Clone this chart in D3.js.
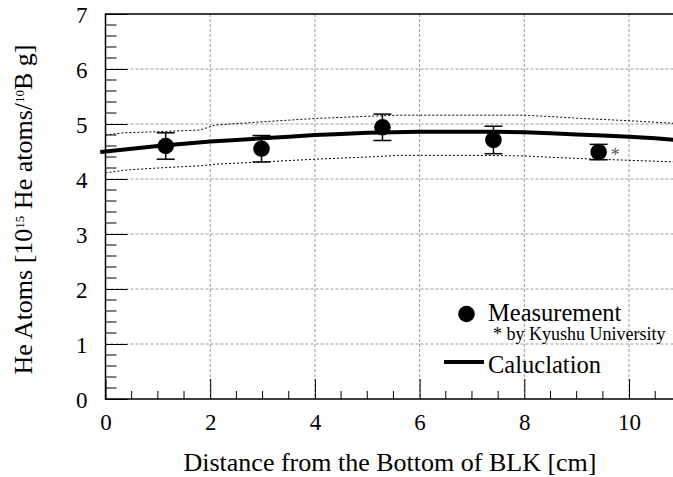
<!DOCTYPE html>
<html>
<head>
<meta charset="utf-8">
<script src="https://cdn.jsdelivr.net/npm/d3@7"></script>
<style>
  body { margin: 0; background: #fff; }
  text { font-family: "Liberation Serif", "DejaVu Serif", serif; fill: #000; }
</style>
</head>
<body>
<svg id="chart" width="673" height="477"></svg>
<script>
/* measured points */
var measX = [1.15, 2.98, 5.29, 7.41, 9.42];
var measY = [4.60, 4.55, 4.94, 4.71, 4.49];
var measErr = [0.24, 0.24, 0.24, 0.25, 0.14];

/* calculation curve and its band */
var calcX = [-0.1, 0, 0.5, 1, 1.5, 2, 2.5, 3, 3.5, 4, 4.5, 5, 5.5, 6, 6.5, 7, 7.5, 8, 8.5, 9, 9.5, 10, 10.5, 10.9];
var calcY = [4.49, 4.50, 4.55, 4.60, 4.64, 4.68, 4.71, 4.74, 4.77, 4.80, 4.82, 4.84, 4.85, 4.86, 4.86, 4.86, 4.86, 4.85, 4.83, 4.81, 4.79, 4.77, 4.74, 4.71];
var bandX = [0, 0.35, 1, 1.8, 2.1, 3, 4, 5, 5.6, 6, 7, 8, 8.6, 9.1, 10, 10.9];
var bandHi = [4.80, 4.84, 4.86, 4.89, 4.98, 5.04, 5.10, 5.14, 5.16, 5.16, 5.16, 5.16, 5.13, 5.10, 5.06, 5.01];
var bandLo = [4.11, 4.16, 4.20, 4.24, 4.27, 4.31, 4.36, 4.40, 4.43, 4.43, 4.43, 4.42, 4.39, 4.37, 4.34, 4.31];

var xMajor = [0, 2, 4, 6, 8, 10];
var yMajor = [0, 1, 2, 3, 4, 5, 6, 7];

var svg = d3.select("#chart");
var pL = 105.5, pR = 673, pT = 14, pB = 399;

var x = d3.scaleLinear().domain([0, 10.84]).range([pL, pR]);
var y = d3.scaleLinear().domain([0, 7]).range([pB, pT]);

// grid
svg.append("g").selectAll("line").data(xMajor.filter(d => d > 0))
  .enter().append("line")
  .attr("x1", d => x(d)).attr("x2", d => x(d))
  .attr("y1", pT).attr("y2", pB)
  .attr("stroke", "#999").attr("stroke-width", 1).attr("stroke-dasharray", "3,2");
svg.append("g").selectAll("line").data(yMajor.filter(d => d > 0 && d < 7))
  .enter().append("line")
  .attr("x1", pL).attr("x2", pR)
  .attr("y1", d => y(d)).attr("y2", d => y(d))
  .attr("stroke", "#999").attr("stroke-width", 1).attr("stroke-dasharray", "3,2");

// axes (ROOT style ticks inside)
var xAxis = d3.axisBottom(x).tickValues(xMajor).tickSize(-20).tickPadding(15).tickFormat(d3.format("d"));
var gx = svg.append("g").attr("transform", "translate(0," + pB + ")").call(xAxis);
gx.select(".domain").remove();
var xMinor = d3.range(0.5, 10.84, 0.5).filter(d => d % 2 != 0);
gx.selectAll(".minor").data(xMinor).enter().append("line")
  .attr("x1", d => x(d)).attr("x2", d => x(d)).attr("y1", 0).attr("y2", -8)
  .attr("stroke", "#000");

var yAxis = d3.axisLeft(y).tickValues(yMajor).tickSize(-22).tickPadding(18).tickFormat(d3.format("d"));
var gy = svg.append("g").attr("transform", "translate(" + pL + ",0)").call(yAxis);
gy.select(".domain").remove();
var yMinor = d3.range(0.2, 7, 0.2).filter(d => Math.abs(d - Math.round(d)) > 0.01);
gy.selectAll(".minor").data(yMinor).enter().append("line")
  .attr("x1", 0).attr("x2", 11).attr("y1", d => y(d)).attr("y2", d => y(d))
  .attr("stroke", "#000");

svg.selectAll(".tick line").attr("stroke", "#000");
svg.selectAll(".tick text").style("font-size", "23px").style("font-family", "Liberation Serif");
gy.selectAll(".tick text").attr("dy", "0.38em");

// frame
svg.append("path")
  .attr("d", "M" + pR + "," + pT + "H" + pL + "V" + pB + "H" + pR)
  .attr("fill", "none").attr("stroke", "#000").attr("stroke-width", 1.5);

// band lines
var line = d3.line().curve(d3.curveLinear);
svg.append("path")
  .attr("d", line(bandX.map((d, i) => [x(d), y(bandHi[i])])))
  .attr("fill", "none").attr("stroke", "#000").attr("stroke-width", 1).attr("stroke-dasharray", "2,2");
svg.append("path")
  .attr("d", line(bandX.map((d, i) => [x(d), y(bandLo[i])])))
  .attr("fill", "none").attr("stroke", "#000").attr("stroke-width", 1).attr("stroke-dasharray", "2,2");

// calculation
svg.append("path")
  .attr("d", line(calcX.map((d, i) => [x(d), y(calcY[i])])))
  .attr("fill", "none").attr("stroke", "#000").attr("stroke-width", 4);

// error bars + points
var pts = svg.append("g");
measX.forEach(function (d, i) {
  var cx = x(d);
  pts.append("line").attr("x1", cx).attr("x2", cx)
    .attr("y1", y(measY[i] - measErr[i])).attr("y2", y(measY[i] + measErr[i]))
    .attr("stroke", "#000").attr("stroke-width", 1.5);
  [measY[i] - measErr[i], measY[i] + measErr[i]].forEach(function (v) {
    pts.append("line").attr("x1", cx - 9).attr("x2", cx + 9)
      .attr("y1", y(v)).attr("y2", y(v)).attr("stroke", "#000").attr("stroke-width", 1.5);
  });
  pts.append("circle").attr("cx", cx).attr("cy", y(measY[i])).attr("r", 8.3).attr("fill", "#000");
});
svg.append("text").attr("x", x(measX[4]) + 12).attr("y", y(measY[4]) + 9)
  .style("font-size", "18px").style("fill", "#555").text("*");

// legend
svg.append("circle").attr("cx", 466.5).attr("cy", 314).attr("r", 8.3).attr("fill", "#000");
svg.append("text").attr("x", 488).attr("y", 321).style("font-size", "24.5px").text("Measurement");
svg.append("text").attr("x", 493).attr("y", 340).style("font-size", "18px").text("* by Kyushu University");
svg.append("line").attr("x1", 444).attr("x2", 484).attr("y1", 362).attr("y2", 362)
  .attr("stroke", "#000").attr("stroke-width", 4);
svg.append("text").attr("x", 488).attr("y", 373).style("font-size", "24.5px").text("Caluclation");

// axis titles
svg.append("text").attr("x", 390).attr("y", 471).attr("text-anchor", "middle")
  .style("font-size", "26px").text("Distance from the Bottom of BLK [cm]");

var yt = svg.append("text").attr("transform", "translate(32,209.5) rotate(-90)")
  .attr("text-anchor", "middle").style("font-size", "26px");
yt.append("tspan").text("He Atoms [10");
yt.append("tspan").attr("dy", -8).style("font-size", "13px").text("15");
yt.append("tspan").attr("dy", 8).text(" He atoms/");
yt.append("tspan").attr("dy", -8).style("font-size", "13px").text("10");
yt.append("tspan").attr("dy", 8).text("B g]");
</script>
</body>
</html>
